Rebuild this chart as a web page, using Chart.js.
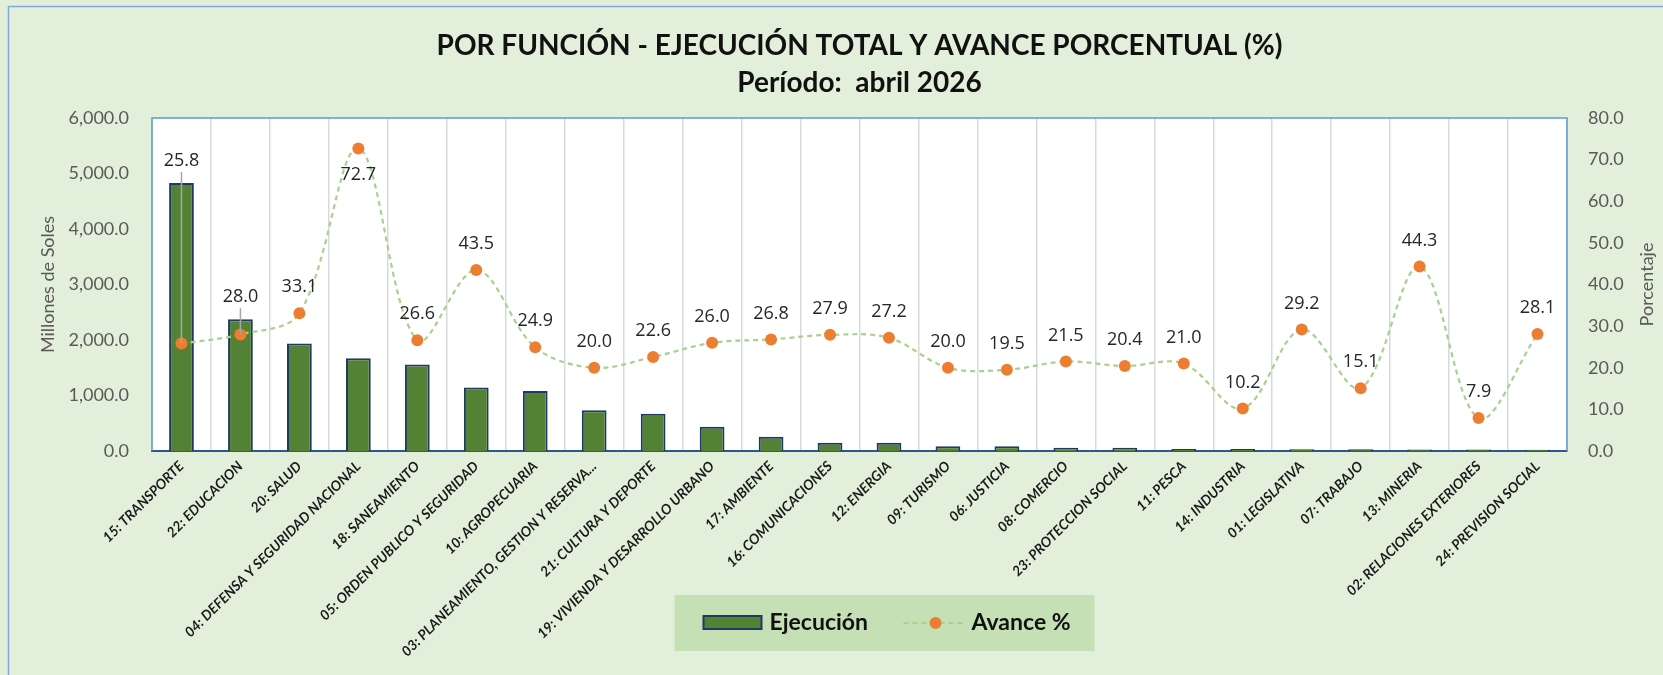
<!DOCTYPE html>
<html>
<head>
<meta charset="utf-8">
<script src="https://cdn.jsdelivr.net/npm/chart.js@4.4.1/dist/chart.umd.min.js"></script>
<style>
  html, body { margin: 0; padding: 0; background: #e2efda; }
  canvas { display: block; }
</style>
</head>
<body>
<canvas id="funcionChart" width="1663" height="675"></canvas>
<script>
// categories (funcion) in the order shown
const categories = [
  '15: TRANSPORTE', '22: EDUCACION', '20: SALUD', '04: DEFENSA Y SEGURIDAD NACIONAL',
  '18: SANEAMIENTO', '05: ORDEN PUBLICO Y SEGURIDAD', '10: AGROPECUARIA',
  '03: PLANEAMIENTO, GESTION Y RESERVA...', '21: CULTURA Y DEPORTE',
  '19: VIVIENDA Y DESARROLLO URBANO', '17: AMBIENTE', '16: COMUNICACIONES',
  '12: ENERGIA', '09: TURISMO', '06: JUSTICIA', '08: COMERCIO', '23: PROTECCION SOCIAL',
  '11: PESCA', '14: INDUSTRIA', '01: LEGISLATIVA', '07: TRABAJO', '13: MINERIA',
  '02: RELACIONES EXTERIORES', '24: PREVISION SOCIAL'
];

// Ejecucion (millones de soles)
const ejecucion = [
  4829, 2375, 1936, 1672, 1557, 1142, 1082, 733, 672, 438, 258, 150,
  150, 86, 86, 60, 60, 36, 34, 32, 30, 28, 26, 24
];

// Avance %
const avance = [
  25.8, 28.0, 33.1, 72.7, 26.6, 43.5, 24.9, 20.0, 22.6, 26.0, 26.8, 27.9,
  27.2, 20.0, 19.5, 21.5, 20.4, 21.0, 10.2, 29.2, 15.1, 44.3, 7.9, 28.1
];

const leftAxis = { min: 0, max: 6000, step: 1000 };
const rightAxis = { min: 0, max: 80, step: 10 };

const GREEN = '#548235';
const NAVY = '#1f3864';
const ORANGE = '#ed7d31';
const LINE_GREEN = '#a9d18e';

// background, plot area and frame
const framePlugin = {
  id: 'frame',
  beforeDraw(chart) {
    const { ctx, chartArea: a, width, height } = chart;
    ctx.save();
    ctx.fillStyle = '#e2efda';
    ctx.fillRect(0, 0, width, height);
    ctx.strokeStyle = '#7fa9d9';
    ctx.lineWidth = 1.5;
    ctx.strokeRect(8.5, 6.5, width, height);
    ctx.fillStyle = '#ffffff';
    ctx.fillRect(a.left, a.top, a.right - a.left, a.bottom - a.top);
    ctx.restore();
  },
  beforeDatasetsDraw(chart) {
    const { ctx, chartArea: a } = chart;
    ctx.save();
    ctx.strokeStyle = '#5b9bd5';
    ctx.lineWidth = 1.5;
    ctx.beginPath();
    ctx.moveTo(a.left, a.bottom);
    ctx.lineTo(a.left, a.top);
    ctx.lineTo(a.right, a.top);
    ctx.lineTo(a.right, a.bottom);
    ctx.stroke();
    ctx.restore();
  }
};

// value labels for the Avance % points
const labelsPlugin = {
  id: 'avanceLabels',
  afterDatasetsDraw(chart) {
    const { ctx, chartArea: a } = chart;
    const barMeta = chart.getDatasetMeta(0);
    const lineMeta = chart.getDatasetMeta(1);
    ctx.save();
    ctx.font = '18px "Open Sans"';
    ctx.textAlign = 'center';
    ctx.textBaseline = 'middle';
    lineMeta.data.forEach((pt, i) => {
      const bar = barMeta.data[i];
      let y = Math.min(pt.y - 26, bar.y - 22);
      if (y - 9 < a.top) y = pt.y + 26;
      if (pt.y - y > 34) {
        ctx.strokeStyle = '#a6a6a6';
        ctx.lineWidth = 1.5;
        ctx.beginPath();
        ctx.moveTo(pt.x, y + 11);
        ctx.lineTo(pt.x, pt.y);
        ctx.stroke();
      }
      ctx.fillStyle = '#262626';
      ctx.fillText(avance[i].toFixed(1), pt.x, y);
    });
    ctx.restore();
  }
};

// legend box and right axis title
const legendPlugin = {
  id: 'legendBox',
  afterDraw(chart) {
    const { ctx, chartArea: a } = chart;
    const cy = a.bottom + 172;
    const left = (a.left + a.right) / 2 - 185;
    ctx.save();
    ctx.fillStyle = '#c5e0b4';
    ctx.fillRect(left, cy - 28, 420, 56);

    ctx.fillStyle = GREEN;
    ctx.strokeStyle = NAVY;
    ctx.lineWidth = 2;
    ctx.fillRect(left + 29, cy - 7, 58, 13);
    ctx.strokeRect(left + 29, cy - 7, 58, 13);

    ctx.font = 'bold 23px Lato';
    ctx.textBaseline = 'middle';
    ctx.fillStyle = '#111111';
    ctx.fillText('Ejecución', left + 95, cy);

    ctx.strokeStyle = LINE_GREEN;
    ctx.setLineDash([5, 4]);
    ctx.beginPath();
    ctx.moveTo(left + 229, cy);
    ctx.lineTo(left + 291, cy);
    ctx.stroke();
    ctx.setLineDash([]);
    ctx.fillStyle = ORANGE;
    ctx.beginPath();
    ctx.arc(left + 261, cy, 6, 0, Math.PI * 2);
    ctx.fill();

    ctx.fillStyle = '#111111';
    ctx.fillText('Avance %', left + 297, cy);

    // right axis title, reads bottom to top
    ctx.translate(chart.width - 16, (a.top + a.bottom) / 2);
    ctx.rotate(-Math.PI / 2);
    ctx.font = '18px Lato';
    ctx.fillStyle = '#595959';
    ctx.textAlign = 'center';
    ctx.fillText('Porcentaje', 0, 0);
    ctx.restore();
  }
};

const ctx = document.getElementById('funcionChart').getContext('2d');
new Chart(ctx, {
  type: 'bar',
  data: {
    labels: categories,
    datasets: [
      {
        type: 'bar',
        label: 'Ejecución',
        data: ejecucion,
        backgroundColor: GREEN,
        borderColor: NAVY,
        borderWidth: 2,
        barPercentage: 0.42,
        categoryPercentage: 1,
        yAxisID: 'y',
        order: 1
      },
      {
        type: 'line',
        label: 'Avance %',
        data: avance,
        borderColor: LINE_GREEN,
        borderWidth: 2.2,
        borderDash: [5, 4],
        tension: 0.35,
        pointRadius: 6,
        pointHoverRadius: 6,
        pointBackgroundColor: ORANGE,
        pointBorderWidth: 0,
        fill: false,
        yAxisID: 'y1',
        order: 0
      }
    ]
  },
  options: {
    responsive: false,
    animation: false,
    layout: { padding: { left: 10, right: 10, top: 0, bottom: 0 } },
    plugins: {
      legend: { display: false },
      tooltip: { enabled: false },
      title: {
        display: true,
        fullSize: false,
        text: ['POR FUNCIÓN - EJECUCIÓN TOTAL Y AVANCE PORCENTUAL (%)', 'Período:  abril 2026'],
        color: '#111111',
        font: { family: 'Lato', size: 28, weight: 'bold', lineHeight: 37 / 28 },
        padding: { top: 27, bottom: 17 }
      }
    },
    scales: {
      x: {
        grid: { color: '#d9d9d9', lineWidth: 1.5, drawTicks: false, offset: true },
        border: { color: '#2f5597', width: 2 },
        ticks: {
          autoSkip: false,
          maxRotation: 45,
          minRotation: 45,
          padding: 7,
          color: '#1a1a1a',
          font: { family: 'Lato', size: 14, weight: 'bold', style: 'italic' }
        },
        afterFit: s => { s.height = 224; }
      },
      y: {
        position: 'left',
        min: leftAxis.min,
        max: leftAxis.max,
        grid: { display: false, drawTicks: false },
        border: { display: false },
        ticks: {
          stepSize: leftAxis.step,
          padding: 23,
          color: '#595959',
          font: { family: 'Lato', size: 18 },
          callback: v => v.toLocaleString('en-US', { minimumFractionDigits: 1, maximumFractionDigits: 1 })
        },
        title: {
          display: true,
          text: 'Millones de Soles',
          color: '#595959',
          font: { family: 'Lato', size: 18 },
          padding: { top: 27, bottom: 0 }
        },
        afterFit: s => { s.width = 142; }
      },
      y1: {
        position: 'right',
        min: rightAxis.min,
        max: rightAxis.max,
        grid: { display: false, drawTicks: false },
        border: { display: false },
        ticks: {
          stepSize: rightAxis.step,
          padding: 21,
          color: '#595959',
          font: { family: 'Lato', size: 18 },
          callback: v => v.toFixed(1)
        },
        afterFit: s => { s.width = 86; }
      }
    }
  },
  plugins: [framePlugin, labelsPlugin, legendPlugin]
});
</script>
</body>
</html>
